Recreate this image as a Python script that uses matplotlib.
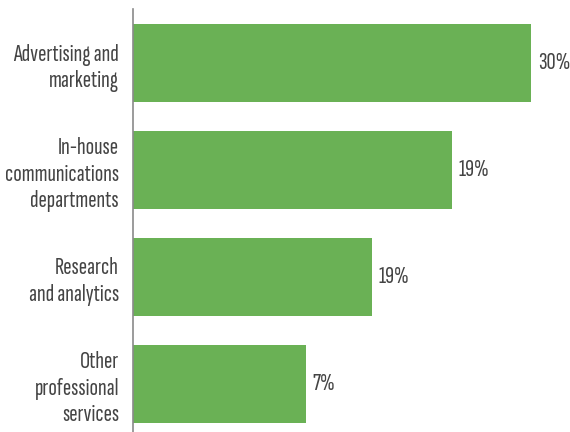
import matplotlib
matplotlib.use('Agg')
import matplotlib.pyplot as plt

categories = ["Advertising and\nmarketing",
              "In-house\ncommunications\ndepartments",
              "Research\nand analytics",
              "Other\nprofessional\nservices"]
bar_values = [30, 24, 18, 13]
pct_labels = ["30%", "19%", "19%", "7%"]

plt.rcParams['font.family'] = ['Sofia Sans Extra Condensed', 'DejaVu Sans']

fig = plt.figure(figsize=(5.7, 4.32), dpi=100)
ax = fig.add_axes([133/570, 0, 1 - 133/570, 423/432])

pos = list(range(len(categories)))
ax.barh(pos, bar_values, height=0.729, color='#6ab155')
for y, v, t in zip(pos, bar_values, pct_labels):
    ax.text(v + 0.5, y, t, va='center', ha='left', fontsize=18, color='#444444')

ax.set_xlim(0, 32.9)
ax.set_ylim(3.449, -0.505)
ax.set_yticks(pos)
ax.set_yticklabels(categories, fontsize=18, color='#444444', linespacing=1.25)
ax.tick_params(axis='y', length=0, pad=10)
ax.set_xticks([])
for s in ['top', 'right', 'bottom']:
    ax.spines[s].set_visible(False)
ax.spines['left'].set_color('#8a8a8a')
ax.spines['left'].set_linewidth(1.2)

fig.savefig('out.png', dpi=100)
